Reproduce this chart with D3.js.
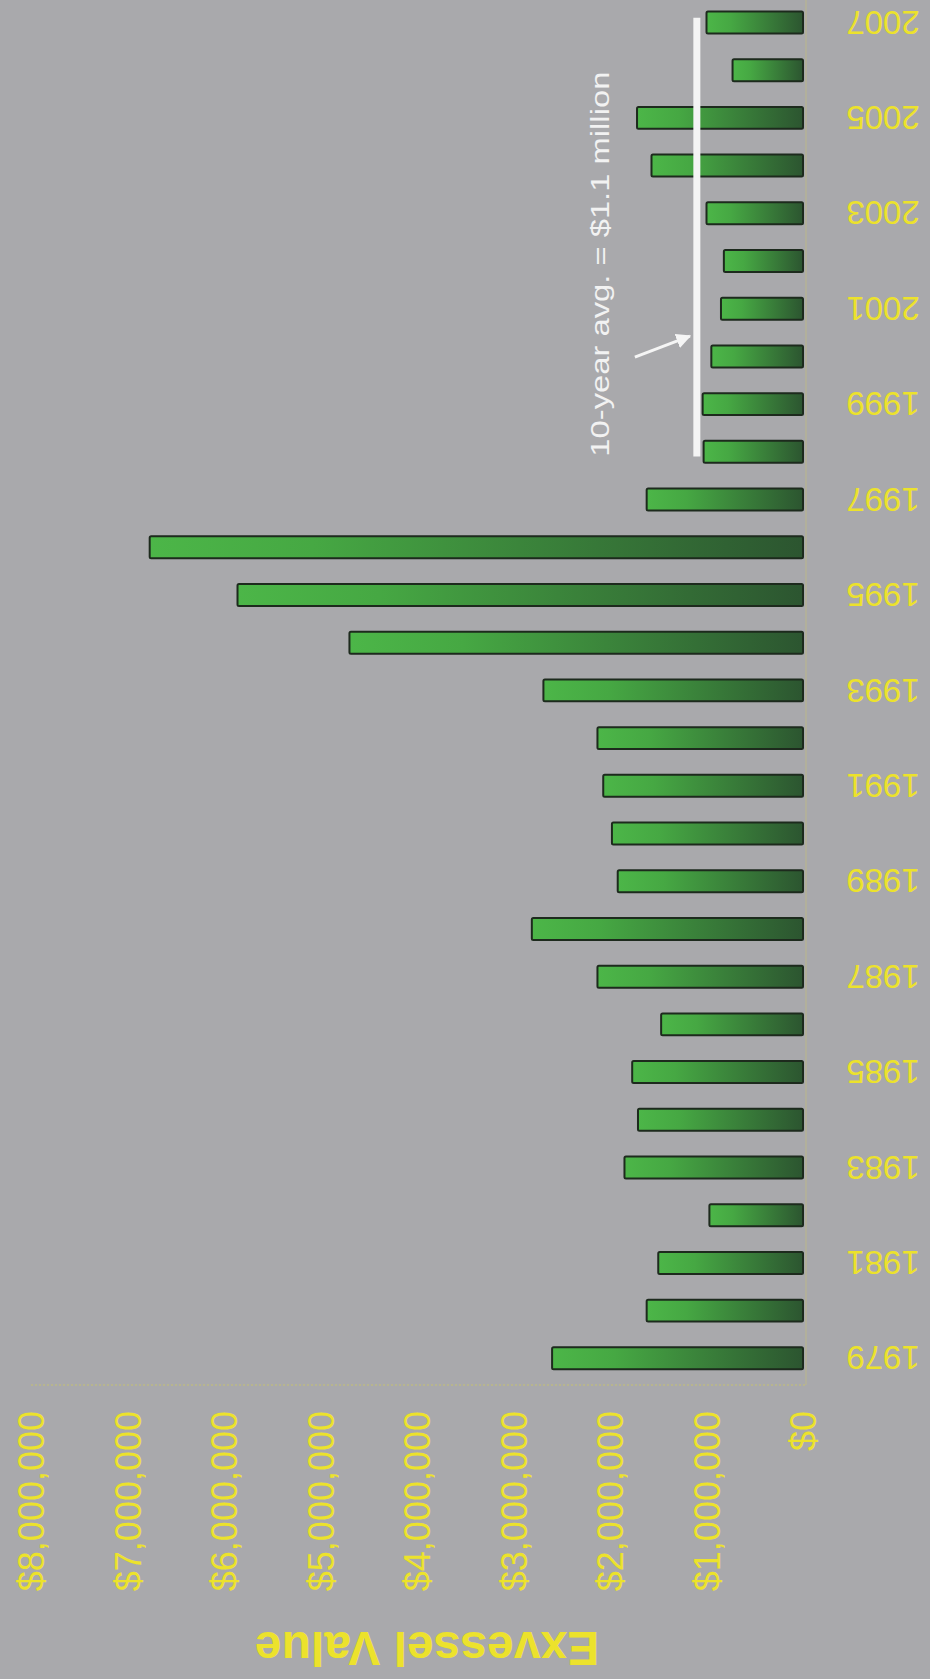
<!DOCTYPE html>
<html>
<head>
<meta charset="utf-8">
<script src="https://cdn.jsdelivr.net/npm/d3@7"></script>
<style>
  html, body { margin: 0; padding: 0; background: #a9a9ac; }
  svg { display: block; }
  text { font-family: "Liberation Sans", Arial, Helvetica, sans-serif; }
</style>
</head>
<body>
<div id="chart"></div>
<script>
// ---- data ----
const years = [1979,1980,1981,1982,1983,1984,1985,1986,1987,1988,1989,1990,1991,1992,1993,
               1994,1995,1996,1997,1998,1999,2000,2001,2002,2003,2004,2005,2006,2007];
const values = [2600000,1620000,1500000,970000,1850000,1710000,1770000,1470000,2130000,2810000,
                1920000,1980000,2070000,2130000,2690000,4700000,5860000,6770000,1620000,
                1030000,1040000,950000,850000,820000,1000000,1570000,1720000,730000,1000000];
const valueTicks = [0,1000000,2000000,3000000,4000000,5000000,6000000,7000000,8000000];
const yearTicks = [1979,1981,1983,1985,1987,1989,1991,1993,1995,1997,1999,2001,2003,2005,2007];
const avgYears = [1998, 2007];
const avgValue = 1100000;
const avgLabel = "10-year avg. = $1.1 million";
const axisTitle = "Exvessel Value";

// ---- layout ----
const W = 930, H = 1679;
const yellow = "#ece22c";

const svg = d3.select("#chart").append("svg")
  .attr("width", W).attr("height", H);

const defs = svg.append("defs");
const grad = defs.append("linearGradient").attr("id", "barGrad")
  .attr("x1", "0").attr("y1", "0").attr("x2", "1").attr("y2", "0");
grad.append("stop").attr("offset", "0%").attr("stop-color", "#4cb648");
grad.append("stop").attr("offset", "25%").attr("stop-color", "#46a843");
grad.append("stop").attr("offset", "100%").attr("stop-color", "#2c5530");

const mk = defs.append("marker").attr("id", "arrowHead")
  .attr("viewBox", "0 0 10 10").attr("refX", 9).attr("refY", 5)
  .attr("markerWidth", 5).attr("markerHeight", 5).attr("orient", "auto")
  .attr("markerUnits", "strokeWidth");
mk.append("path").attr("d", "M0,0 L10,5 L0,10 Z").attr("fill", "#f5f5f5");

svg.append("rect").attr("width", W).attr("height", H).attr("fill", "#a9a9ac");

// value scale runs right-to-left (chart rotated)
const x = d3.scaleLinear().domain([0, 8000000]).range([803, 31]);
// category scale runs bottom-to-top
const y = d3.scaleBand().domain(years).range([1382.2, -1.4])
  .paddingInner(0.54).paddingOuter(0.27);

// faint axis lines
svg.append("line")
  .attr("x1", x(8000000)).attr("x2", x(0) + 2)
  .attr("y1", 1385).attr("y2", 1385)
  .attr("stroke", yellow).attr("stroke-opacity", 0.3)
  .attr("stroke-width", 1.5).attr("stroke-dasharray", "2,2");
svg.append("line")
  .attr("x1", x(0) + 3).attr("x2", x(0) + 3)
  .attr("y1", 0).attr("y2", 1385)
  .attr("stroke", yellow).attr("stroke-opacity", 0.18)
  .attr("stroke-width", 1.5);

// bars
svg.append("g").selectAll("rect")
  .data(years.map((yr, i) => ({ yr, v: values[i] })))
  .join("rect")
  .attr("x", d => x(d.v))
  .attr("width", d => x(0) - x(d.v))
  .attr("y", d => y(d.yr))
  .attr("height", y.bandwidth())
  .attr("rx", 1.5)
  .attr("fill", "url(#barGrad)")
  .attr("stroke", "#1d2a1d")
  .attr("stroke-width", 2);

// value axis (labels rotated)
const xAxis = svg.append("g")
  .attr("transform", "translate(0,1385)")
  .call(d3.axisBottom(x).tickValues(valueTicks).tickFormat(d3.format("$,")).tickSize(0));
xAxis.select(".domain").remove();
xAxis.selectAll("text")
  .attr("x", 0).attr("y", 0).attr("dy", "0.36em")
  .attr("transform", "translate(0,26) rotate(-90)")
  .attr("text-anchor", "end")
  .attr("fill", yellow)
  .style("font-size", "36px")
  .style("font-family", "'Liberation Sans', Arial, sans-serif");

// year axis (labels upside down)
const yAxis = svg.append("g")
  .attr("transform", `translate(${x(0)},0)`)
  .call(d3.axisRight(y).tickValues(yearTicks).tickSize(0));
yAxis.select(".domain").remove();
yAxis.selectAll("text")
  .attr("x", 0).attr("y", 0).attr("dy", "0.36em")
  .attr("transform", "translate(80,0) rotate(180)")
  .attr("text-anchor", "middle")
  .attr("fill", yellow)
  .style("font-size", "33px")
  .style("font-family", "'Liberation Sans', Arial, sans-serif");

// axis title (upside down)
svg.append("text")
  .attr("transform", `translate(${(x(0) + x(8000000)) / 2 + 10},1632) rotate(180)`)
  .attr("text-anchor", "middle")
  .attr("fill", yellow)
  .style("font-size", "48px")
  .style("font-weight", "bold")
  .text(axisTitle);

// 10-year average line
const yTop = y(avgYears[1]) + y.bandwidth() / 2 - 0.1 * y.step();
const yBot = y(avgYears[0]) + y.bandwidth() / 2 + 0.1 * y.step();
svg.append("line")
  .attr("x1", x(avgValue)).attr("x2", x(avgValue))
  .attr("y1", yTop).attr("y2", yBot)
  .attr("stroke", "#f4f4f4").attr("stroke-width", 7);

// arrow
svg.append("line")
  .attr("x1", x(avgValue) - 62).attr("y1", (yTop + yBot) / 2 + 120)
  .attr("x2", x(avgValue) - 7).attr("y2", (yTop + yBot) / 2 + 99)
  .attr("stroke", "#f5f5f5").attr("stroke-width", 3)
  .attr("marker-end", "url(#arrowHead)");

// annotation text
svg.append("text")
  .attr("transform", `translate(600,${(yTop + yBot) / 2 + 27}) rotate(-90)`)
  .attr("text-anchor", "middle")
  .attr("dy", "0.36em")
  .attr("fill", "#f2f2f2")
  .attr("textLength", 385)
  .attr("lengthAdjust", "spacingAndGlyphs")
  .style("font-size", "26px")
  .text(avgLabel);
</script>
</body>
</html>
